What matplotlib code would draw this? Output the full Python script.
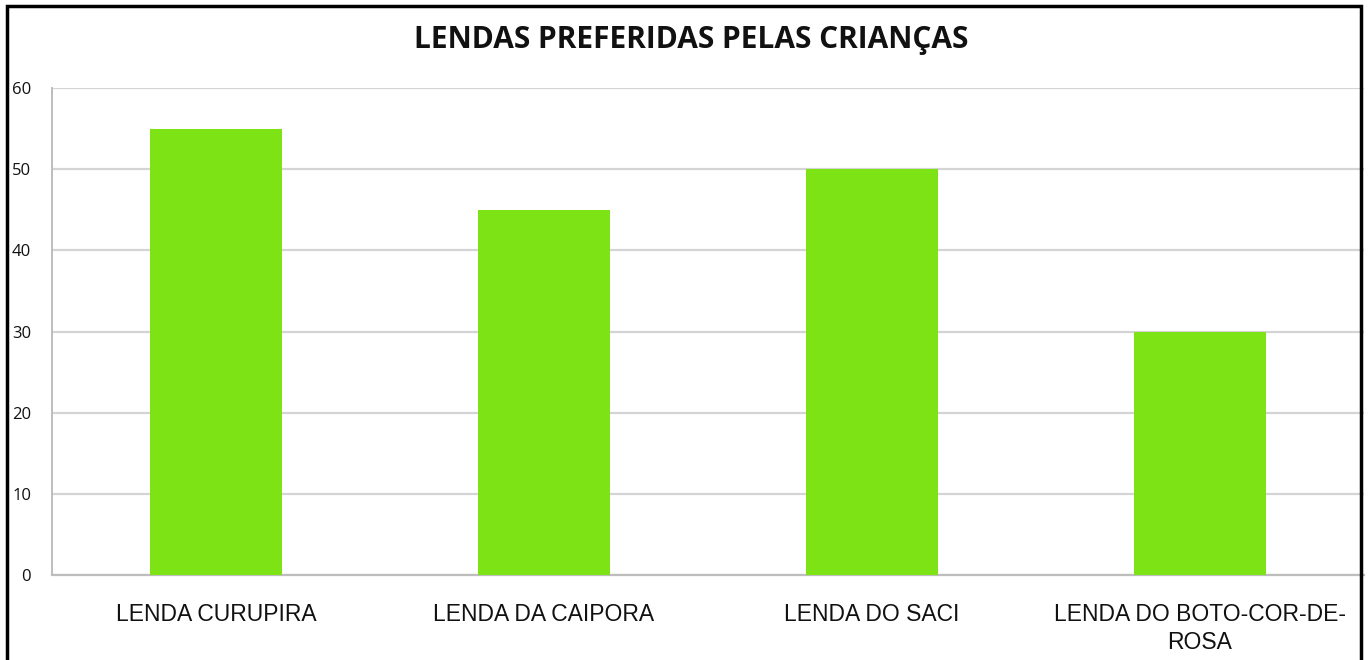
import matplotlib.pyplot as plt
from matplotlib.patches import Rectangle

categories = ["LENDA CURUPIRA", "LENDA DA CAIPORA", "LENDA DO SACI", "LENDA DO BOTO-COR-DE-\nROSA"]
values = [55, 45, 50, 30]
yticks = [0, 10, 20, 30, 40, 50, 60]
title = "LENDAS PREFERIDAS PELAS CRIANÇAS"

fig = plt.figure(figsize=(13.68, 6.6), dpi=100)
ax = fig.add_axes([52 / 1368, 85 / 660, 1312 / 1368, 487 / 660])

x = range(len(categories))
ax.bar(x, values, width=0.4, color="#7ee314", zorder=3)

ax.set_xlim(-0.5, 3.5)
ax.set_ylim(0, 60)
ax.set_yticks(yticks)
ax.set_xticks(list(x))
ax.set_xticklabels(categories, fontfamily="Liberation Sans", fontsize=16.5,
                   linespacing=1.3, color="#111111")
ax.tick_params(axis="x", length=0, pad=20)
ax.tick_params(axis="y", length=0, pad=15, labelsize=12, labelcolor="#111111")
for lbl in ax.get_yticklabels():
    lbl.set_fontfamily("Open Sans")

ax.grid(axis="y", color="#d4d4d4", linewidth=1.6, zorder=0)
for side in ["top", "right"]:
    ax.spines[side].set_visible(False)
ax.spines["left"].set_color("#bdbdbd")
ax.spines["left"].set_linewidth(1.4)
ax.spines["bottom"].set_color("#bdbdbd")
ax.spines["bottom"].set_linewidth(1.6)

fig.text(0.505, 1 - 40 / 660, title, ha="center", va="center",
         fontfamily="Open Sans", fontweight="bold", fontsize=21.5, color="#111111")

# outer frame
fig.patches.append(Rectangle((7 / 1368, -0.05), 1354 / 1368, 1.05 - 6 / 660,
                             transform=fig.transFigure, fill=False,
                             edgecolor="black", linewidth=2.5))

fig.savefig("out.png", dpi=100)
